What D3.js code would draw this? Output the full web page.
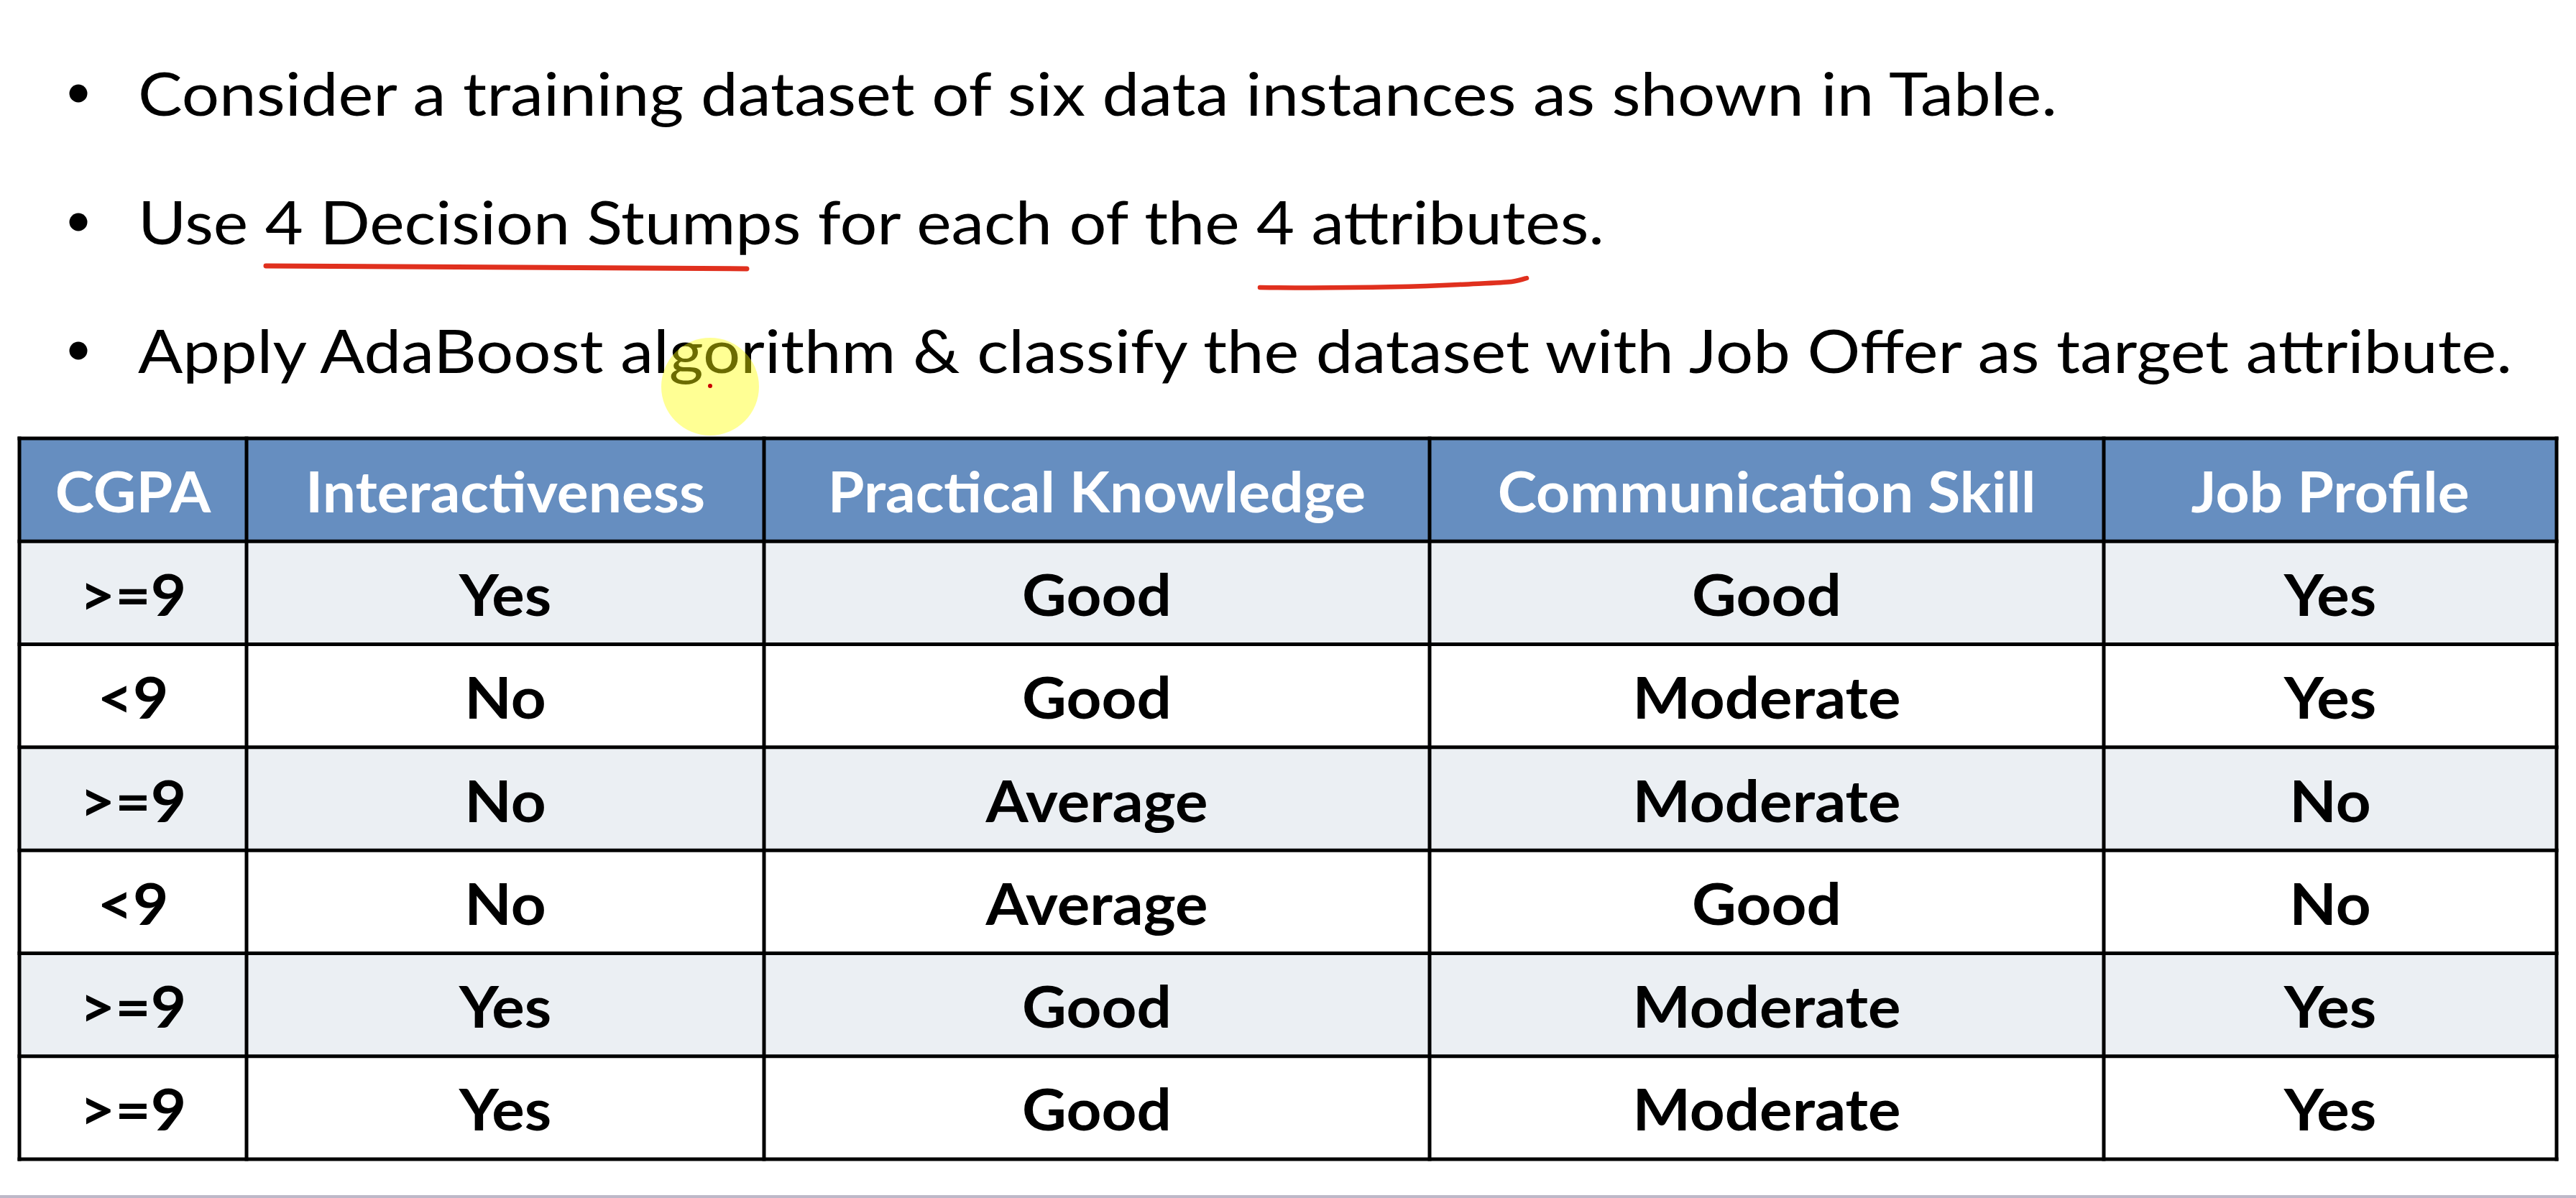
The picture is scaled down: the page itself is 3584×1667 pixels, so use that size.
<!DOCTYPE html>
<html>
<head>
<meta charset="utf-8">
<script src="https://cdn.jsdelivr.net/npm/d3@7"></script>
<style>
  body { margin: 0; background: #fff; overflow: hidden; }
  svg { display: block; }
</style>
</head>
<body>
<script>

// slide text
let bullets = [
  "Consider a training dataset of six data instances as shown in Table.",
  "Use 4 Decision Stumps for each of the 4 attributes.",
  "Apply AdaBoost algorithm & classify the dataset with Job Offer as target attribute."
];

// table
let headers = ["CGPA", "Interactiveness", "Practical Knowledge", "Communication Skill", "Job Profile"];
let cgpa = [">=9", "<9", ">=9", "<9", ">=9", ">=9"];
let interactiveness = ["Yes", "No", "No", "No", "Yes", "Yes"];
let practicalKnowledge = ["Good", "Good", "Average", "Average", "Good", "Good"];
let communicationSkill = ["Good", "Moderate", "Moderate", "Good", "Moderate", "Moderate"];
let jobProfile = ["Yes", "Yes", "No", "No", "Yes", "Yes"];

var width = 3584,
    height = 1667;

let svg = d3.select("body").append("svg")
    .attr("width", width)
    .attr("height", height);

var font = "Lato, 'Open Sans', sans-serif";

// ---- bullets ----
var lineY = d3.scaleLinear().domain([0, 2]).range([161, 519]);
var lineEnds = [2862, 2232, 3495];   // right edge of each line in the slide

svg.selectAll(".bullet")
    .data(bullets)
    .enter()
    .append("circle")
    .attr("cx", 109)
    .attr("cy", (d, i) => lineY(i) - 31)
    .attr("r", 12.5)
    .attr("fill", "#000");

svg.selectAll(".line")
    .data(bullets)
    .enter()
    .append("text")
    .attr("x", 192)
    .attr("y", (d, i) => lineY(i))
    .attr("font-family", font)
    .attr("font-size", 84)
    .attr("fill", "#000")
    .attr("textLength", (d, i) => lineEnds[i] - 192)
    .attr("lengthAdjust", "spacingAndGlyphs")
    .text(d => d);

// red pen marks
svg.append("path")
    .attr("d", "M370,370 L1039,374")
    .attr("stroke", "#e0301e")
    .attr("stroke-width", 7)
    .attr("stroke-linecap", "round")
    .attr("fill", "none");

svg.append("path")
    .attr("d", "M1753,400 C1850,401 1950,400 2030,396 S2105,393 2124,387")
    .attr("stroke", "#e0301e")
    .attr("stroke-width", 6.5)
    .attr("stroke-linecap", "round")
    .attr("fill", "none");

// ---- table ----
var colEdges = [27, 343, 1063, 1989, 2927, 3557];
var rows = d3.range(cgpa.length).map(i =>
  [cgpa[i], interactiveness[i], practicalKnowledge[i], communicationSkill[i], jobProfile[i]]);

var y = d3.scaleBand()
    .domain(d3.range(rows.length + 1))
    .range([610, 1613]);

var cellFill = ["#ebeff3", "#ffffff"];

// header background
svg.append("rect")
    .attr("x", colEdges[0])
    .attr("y", y(0))
    .attr("width", colEdges[5] - colEdges[0])
    .attr("height", y.bandwidth())
    .attr("fill", "#668ec0");

svg.selectAll(".rowbg")
    .data(rows)
    .enter()
    .append("rect")
    .attr("x", colEdges[0])
    .attr("y", (d, i) => y(i + 1))
    .attr("width", colEdges[5] - colEdges[0])
    .attr("height", y.bandwidth())
    .attr("fill", (d, i) => cellFill[i % 2]);

// squeeze lato to calibri-ish widths
var probe = svg.append("text")
    .attr("font-family", font)
    .attr("font-weight", "bold")
    .attr("font-size", 78)
    .text("Interactiveness");
var squeeze = 556 / probe.node().getComputedTextLength();
probe.remove();

function cellText(sel, size, color) {
  sel.attr("font-family", font)
     .attr("font-weight", "bold")
     .attr("font-size", size)
     .attr("fill", color)
     .attr("text-anchor", "middle")
     .each(function() {
       var w = this.getComputedTextLength();
       d3.select(this)
         .attr("textLength", w * squeeze)
         .attr("lengthAdjust", "spacingAndGlyphs");
     });
}

svg.selectAll(".head")
    .data(headers)
    .enter()
    .append("text")
    .attr("x", (d, i) => (colEdges[i] + colEdges[i + 1]) / 2)
    .attr("y", y(0) + y.bandwidth() / 2 + 31)
    .text(d => d)
    .call(cellText, 78, "#fff");

rows.forEach(function(r, ri) {
  svg.selectAll(".cell" + ri)
      .data(r)
      .enter()
      .append("text")
      .attr("x", (d, i) => (colEdges[i] + colEdges[i + 1]) / 2)
      .attr("y", y(ri + 1) + y.bandwidth() / 2 + 32)
      .text(d => d)
      .call(cellText, 81, "#000");
});

// grid lines
svg.selectAll(".hline")
    .data(d3.range(rows.length + 2))
    .enter()
    .append("line")
    .attr("x1", colEdges[0] - 2.5)
    .attr("x2", colEdges[5] + 2.5)
    .attr("y1", i => i <= rows.length ? y(i) : y(rows.length) + y.bandwidth())
    .attr("y2", i => i <= rows.length ? y(i) : y(rows.length) + y.bandwidth())
    .attr("stroke", "#000")
    .attr("stroke-width", 5);

svg.selectAll(".vline")
    .data(colEdges)
    .enter()
    .append("line")
    .attr("x1", d => d)
    .attr("x2", d => d)
    .attr("y1", y(0) - 2.5)
    .attr("y2", y(rows.length) + y.bandwidth() + 2.5)
    .attr("stroke", "#000")
    .attr("stroke-width", 5);

// pointer highlight
svg.append("circle")
    .attr("cx", 988)
    .attr("cy", 538)
    .attr("r", 68)
    .attr("fill", "#ffff00")
    .attr("opacity", 0.42);

svg.append("circle")
    .attr("cx", 988)
    .attr("cy", 537)
    .attr("r", 3)
    .attr("fill", "#c80000");

// bottom edge of the frame
svg.append("rect")
    .attr("x", 0)
    .attr("y", 1663)
    .attr("width", width)
    .attr("height", 4)
    .attr("fill", "#bdb8c8");

</script>
</body>
</html>
